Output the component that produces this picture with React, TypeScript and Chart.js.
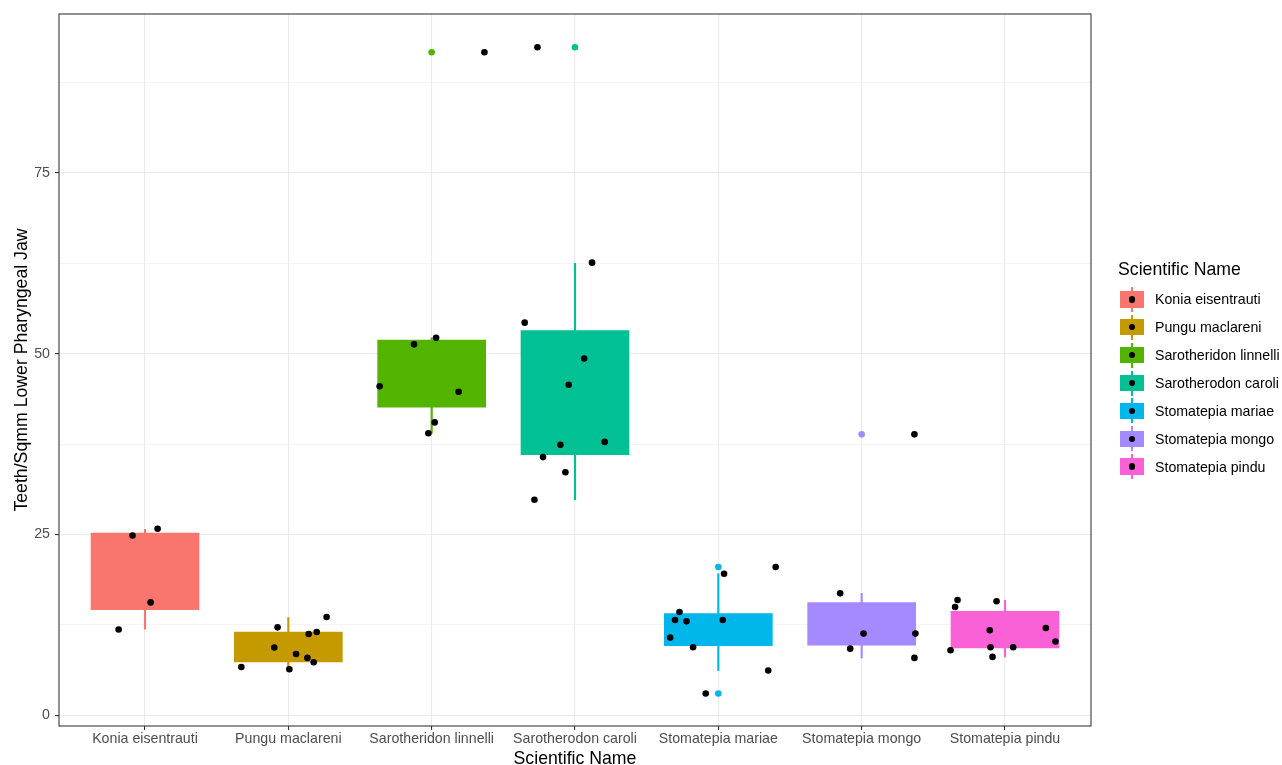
import React, { useEffect, useRef } from "react";
import { Chart, registerables } from "chart.js";

Chart.register(...registerables);

const categories = [
  "Konia eisentrauti",
  "Pungu maclareni",
  "Sarotheridon linnelli",
  "Sarotherodon caroli",
  "Stomatepia mariae",
  "Stomatepia mongo",
  "Stomatepia pindu",
];

const colors = ["#F8766D", "#C49A00", "#53B400", "#00C094", "#00B6EB", "#A58AFF", "#FB61D7"];

// box (Q1..Q3) and whisker extents
const q1 = [14.6, 7.36, 42.6, 36.05, 9.62, 9.67, 9.3];
const q3 = [25.2, 11.5, 51.9, 53.2, 14.04, 15.57, 14.36];
const whiskerLo = [11.9, 6.35, 39.0, 29.8, 6.17, 7.92, 8.05];
const whiskerHi = [25.7, 13.5, 52.2, 62.5, 19.57, 16.85, 15.9];

// outliers (category index, value)
const outlierCat = [2, 3, 4, 4, 5];
const outlierVal = [91.7, 92.4, 20.5, 3.0, 38.85];

// jittered observations (x in category units, y value)
const pointX = [
  -0.184, -0.087, 0.088, 0.039,
  0.672, 0.902, 0.925, 1.007, 1.054, 1.133, 1.142, 1.177, 1.198, 1.267,
  2.368, 1.877, 2.031, 1.637, 2.188, 2.021, 1.977,
  2.738, 3.119, 2.649, 3.064, 2.956, 2.898, 3.207, 2.777, 2.933, 2.717,
  4.04, 4.4, 3.729, 3.698, 3.778, 4.031, 3.664, 3.824, 4.348, 3.912,
  5.368, 4.85, 5.013, 5.375, 4.92, 5.368,
  5.669, 5.652, 5.941, 5.894, 6.285, 6.352, 5.62, 5.899, 6.057, 5.913,
];
const pointY = [
  11.85, 24.86, 25.79, 15.6,
  6.67, 9.35, 12.15, 6.35, 8.47, 7.92, 11.23, 7.32, 11.5, 13.58,
  91.7, 51.3, 52.2, 45.5, 44.75, 40.5, 39.0,
  92.4, 62.6, 54.3, 49.35, 45.7, 37.4, 37.8, 35.7, 33.6, 29.8,
  19.57, 20.5, 14.27, 13.17, 12.98, 13.17, 10.73, 9.39, 6.17, 3.0,
  38.85, 16.85, 11.28, 11.28, 9.2, 7.92,
  15.93, 14.96, 15.75, 11.74, 12.06, 10.18, 8.98, 9.39, 9.39, 8.06,
];

const yTicks = [0, 12.5, 25, 37.5, 50, 62.5, 75, 87.5];

const FONT = "'Liberation Sans', Arial, Helvetica, sans-serif";

const panelBorder = {
  id: "panelBorder",
  afterDraw(chart: any) {
    const { ctx, chartArea } = chart;
    ctx.save();
    ctx.strokeStyle = "#333333";
    ctx.lineWidth = 1.07;
    ctx.strokeRect(chartArea.left, chartArea.top, chartArea.right - chartArea.left, chartArea.bottom - chartArea.top);
    ctx.restore();
  },
};

export default function App() {
  const ref = useRef<HTMLCanvasElement | null>(null);

  useEffect(() => {
    if (!ref.current) return;
    const chart = new Chart(ref.current, {
      type: "bar",
      data: {
        datasets: [
          {
            type: "scatter",
            label: "points",
            data: pointX.map((x, i) => ({ x, y: pointY[i] })),
            backgroundColor: "#000000",
            borderWidth: 0,
            pointRadius: 3.3,
            order: 0,
          } as any,
          {
            type: "scatter",
            label: "outliers",
            data: outlierCat.map((c, i) => ({ x: c, y: outlierVal[i] })),
            backgroundColor: outlierCat.map((c) => colors[c]),
            borderWidth: 0,
            pointRadius: 3.3,
            order: 1,
          } as any,
          {
            type: "bar",
            label: "box",
            data: categories.map((_, i) => ({ x: i, y: [q1[i], q3[i]] })),
            backgroundColor: colors,
            borderWidth: 0,
            barThickness: 108,
            grouped: false,
            order: 2,
          } as any,
          {
            type: "bar",
            label: "whisker",
            data: categories.map((_, i) => ({ x: i, y: [whiskerLo[i], whiskerHi[i]] })),
            backgroundColor: colors,
            borderWidth: 0,
            barThickness: 1.5,
            grouped: false,
            order: 3,
          } as any,
        ],
      },
      options: {
        responsive: false,
        animation: false,
        layout: { padding: { left: 0, right: 191, top: 14, bottom: 0 } },
        plugins: { legend: { display: false }, tooltip: { enabled: false } },
        scales: {
          x: {
            type: "linear",
            min: -0.6,
            max: 6.6,
            offset: false,
            afterBuildTicks: (axis: any) => {
              axis.ticks = categories.map((_, i) => ({ value: i }));
            },
            afterFit: (axis: any) => {
              axis.height = 39;
            },
            ticks: {
              autoSkip: false,
              maxRotation: 0,
              minRotation: 0,
              padding: 1,
              color: "#4D4D4D",
              font: { family: FONT, size: 14.2 },
              callback: (v: any) => categories[Math.round(Number(v))] ?? "",
            },
            grid: {
              offset: false,
              color: "#EBEBEB",
              lineWidth: 1.1,
              drawTicks: true,
              tickLength: 4,
              tickColor: "#333333",
              tickWidth: 1.1,
            },
            border: { display: false },
            title: {
              display: true,
              text: "Scientific Name",
              color: "#000000",
              font: { family: FONT, size: 17.7, lineHeight: 0.69 },
              padding: { top: 0, bottom: 0 },
            },
          } as any,
          y: {
            type: "linear",
            min: -1.5,
            max: 97,
            afterBuildTicks: (axis: any) => {
              axis.ticks = yTicks.map((v) => ({ value: v }));
            },
            afterFit: (axis: any) => {
              axis.width = 59;
            },
            ticks: {
              padding: 5,
              color: "#4D4D4D",
              font: { family: FONT, size: 14.2 },
              callback: (v: any) => (Number(v) % 25 === 0 ? String(v) : ""),
            },
            grid: {
              color: "#EBEBEB",
              lineWidth: (ctx: any) => (ctx.tick && ctx.tick.value % 25 === 0 ? 1.1 : 0.55),
              drawTicks: true,
              tickLength: 4,
              tickColor: (ctx: any) => (ctx.tick && ctx.tick.value % 25 === 0 ? "#333333" : "rgba(0,0,0,0)"),
              tickWidth: 1.1,
            },
            border: { display: false },
            title: {
              display: true,
              text: "Teeth/Sqmm Lower Pharyngeal Jaw",
              color: "#000000",
              font: { family: FONT, size: 17.7, lineHeight: 1.2 },
              padding: { top: 11.4, bottom: 0 },
            },
          } as any,
        },
      } as any,
      plugins: [panelBorder],
    });
    return () => chart.destroy();
  }, []);

  const legendTop = 299.3;
  const legendStep = 27.9;

  return (
    <div style={{ position: "absolute", left: 0, top: 0, width: 1282, height: 765, background: "#ffffff", fontFamily: FONT }}>
      <canvas ref={ref} width={1282} height={765} style={{ width: 1282, height: 765, display: "block" }} />
      <div
        style={{
          position: "absolute",
          left: 1118,
          top: 259,
          height: 20,
          lineHeight: "20px",
          fontSize: 17.7,
          color: "#000",
          whiteSpace: "nowrap",
        }}
      >
        Scientific Name
      </div>
      {categories.map((name, i) => {
        const yc = legendTop + legendStep * i;
        return (
          <React.Fragment key={name}>
            <div style={{ position: "absolute", left: 1131.3, top: yc - 12.5, width: 1.4, height: 25, background: colors[i] }} />
            <div style={{ position: "absolute", left: 1120, top: yc - 8.3, width: 24, height: 16.6, background: colors[i] }} />
            <div
              style={{
                position: "absolute",
                left: 1132 - 3.3,
                top: yc - 3.3,
                width: 6.6,
                height: 6.6,
                borderRadius: "50%",
                background: "#000",
              }}
            />
            <div
              style={{
                position: "absolute",
                left: 1155,
                top: yc - 10,
                height: 20,
                lineHeight: "20px",
                fontSize: 14.2,
                color: "#000",
                whiteSpace: "nowrap",
              }}
            >
              {name}
            </div>
          </React.Fragment>
        );
      })}
    </div>
  );
}
